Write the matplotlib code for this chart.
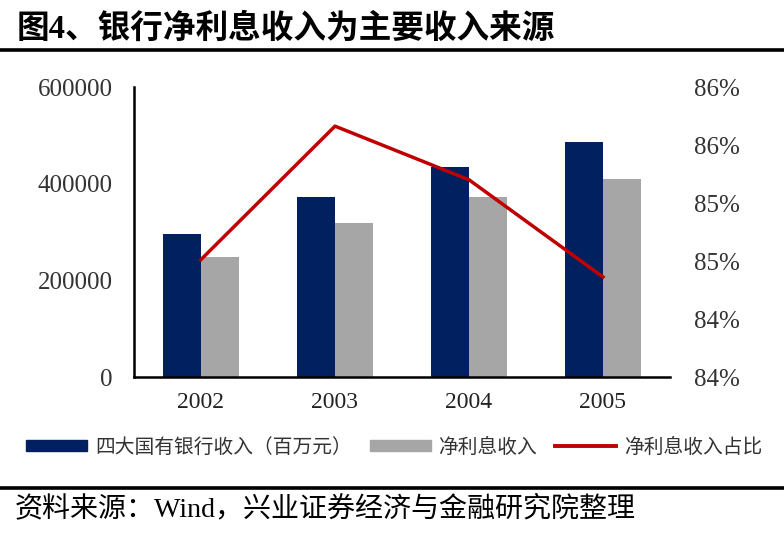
import matplotlib
matplotlib.use("Agg")
import matplotlib.pyplot as plt
import numpy as np
from matplotlib.patches import Patch
from matplotlib.lines import Line2D

# data
years = ["2002", "2003", "2004", "2005"]
total_income = [296500, 372400, 435100, 485500]      # 四大国有银行收入（百万元）
net_interest = [248900, 318600, 372400, 410300]      # 净利息收入
nii_share = [84.81, 85.73, 85.36, 84.69]             # 净利息收入占比 (%)

left_ticks = [0, 200000, 400000, 600000]
right_ticks = [84.0, 84.4, 84.8, 85.2, 85.6, 86.0]
right_labels = ["84%", "84%", "85%", "85%", "86%", "86%"]

navy = "#002060"
grey = "#A6A6A6"
red = "#C00000"
serif_cjk = ["Liberation Serif", "Noto Sans CJK SC"]

fig = plt.figure(figsize=(7.84, 5.38), dpi=100)

# title and rules
fig.text(0.021, 1 - 29 / 538, "图4、银行净利息收入为主要收入来源", family=serif_cjk,
         fontsize=23.5, fontweight="bold", va="center", ha="left", color="black")
fig.add_artist(Line2D([0, 1], [1 - 50 / 538, 1 - 50 / 538], color="black", lw=2.6,
                      transform=fig.transFigure))
fig.add_artist(Line2D([0, 1], [1 - 488 / 538, 1 - 488 / 538], color="black", lw=2.6,
                      transform=fig.transFigure))
fig.text(0.018, 1 - 509 / 538, "资料来源：Wind，兴业证券经济与金融研究院整理", family=serif_cjk,
         fontsize=20.2, va="center", ha="left", color="black")

ax = fig.add_axes([134 / 784, 1 - 377 / 538, (670 - 134) / 784, 290 / 538])
x = np.arange(len(years))
w = 0.28
ax.bar(x - w / 2, total_income, width=w, color=navy, zorder=2)
ax.bar(x + w / 2, net_interest, width=w, color=grey, zorder=2)
ax.set_xlim(-0.5, 3.5)
ax.set_ylim(0, 600000)
ax.set_yticks(left_ticks)
ax.set_yticklabels([str(t) for t in left_ticks], family="Liberation Serif",
                   fontsize=18, color="#333333")
ax.set_xticks(x)
ax.set_xticklabels(years, family="Liberation Serif", fontsize=17, color="#222222")
ax.tick_params(axis="y", length=0, pad=15.5)
ax.tick_params(axis="x", length=0, pad=11)
for s in ["top", "right"]:
    ax.spines[s].set_visible(False)
for s in ["left", "bottom"]:
    ax.spines[s].set_linewidth(1.8)
    ax.spines[s].set_color("black")

ax2 = ax.twinx()
ax2.plot(x, nii_share, color=red, lw=2.5, zorder=3)
ax2.set_ylim(84.0, 86.0)
ax2.set_yticks(right_ticks)
ax2.set_yticklabels(right_labels, family="Liberation Serif", fontsize=18, color="#333333")
ax2.tick_params(axis="y", length=0, pad=17)
for s in ["top", "right", "left", "bottom"]:
    ax2.spines[s].set_visible(False)

handles = [Patch(color=navy), Patch(color=grey), Line2D([0], [0], color=red, lw=2.8)]
labels = ["四大国有银行收入（百万元）", "净利息收入", "净利息收入占比"]
fig.legend(handles, labels, loc="center left", bbox_to_anchor=(26 / 784, 1 - 447 / 538),
           ncol=3, frameon=False,
           prop={"family": "Noto Sans CJK SC", "size": 14.2, "weight": "light"},
           labelcolor="#333333",
           handlelength=3.1, handleheight=0.5, handletextpad=0.4, columnspacing=0.9,
           borderaxespad=0, borderpad=0)

fig.savefig("out.png", dpi=100)
